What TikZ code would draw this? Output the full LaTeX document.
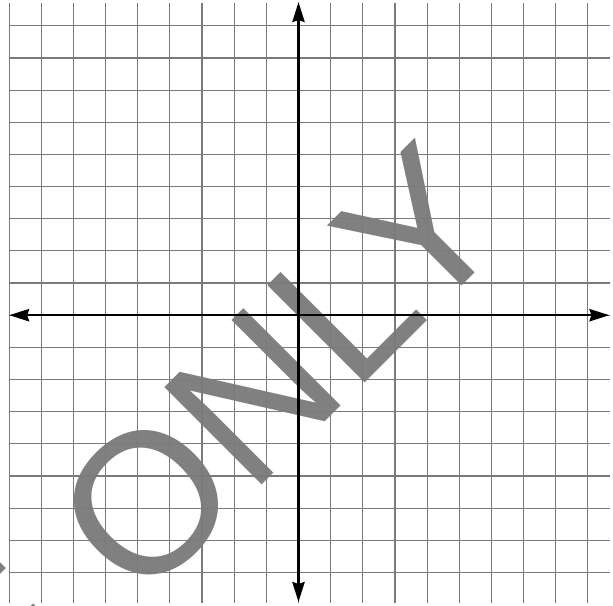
\documentclass[tikz,border=0pt]{standalone}
\usepackage{fontspec}
\usepackage{xcolor}
\usepackage{tikz}
\usetikzlibrary{arrows.meta}

\newfontfamily\wmfont{Liberation Sans}
\definecolor{wmgray}{HTML}{808080}
\definecolor{gridgray}{HTML}{7A7A7A}

\begin{document}
\begin{tikzpicture}[
    gridline/.style={draw=gridgray, line width=1pt},
    axis/.style={draw=black, line width=2.2pt,
                 {Stealth[length=0.62cm, width=0.38cm, inset=0.06cm]}-{Stealth[length=0.62cm, width=0.38cm, inset=0.06cm]}},
    wm/.style={text=wmgray, inner sep=0pt, font=\wmfont\fontsize{177}{177}\selectfont},
  ]

  % Frame
  \useasboundingbox[fill=white] (-9.285,-9.045) rectangle (9.782,9.804);
  \clip (-9.285,-9.045) rectangle (9.782,9.804);

  % Watermark
  \node[wm, anchor=base west, rotate=45] (mark) at (-9.06,-13.22) {E ONLY};

  % Grid
  \foreach \x in {-9,...,9}
    \draw[gridline] (\x,-8.95) -- (\x,9.71);
  \foreach \y in {-8,...,9}
    \draw[gridline] (-9,\y) -- (9.69,\y);

  % Axes
  \coordinate (xl) at (-9.0,0);
  \coordinate (xr) at (9.67,0);
  \coordinate (yb) at (0,-8.92);
  \coordinate (yt) at (0,9.74);
  \draw[axis] (xl) -- (xr);
  \draw[axis] (yb) -- (yt);

\end{tikzpicture}
\end{document}
